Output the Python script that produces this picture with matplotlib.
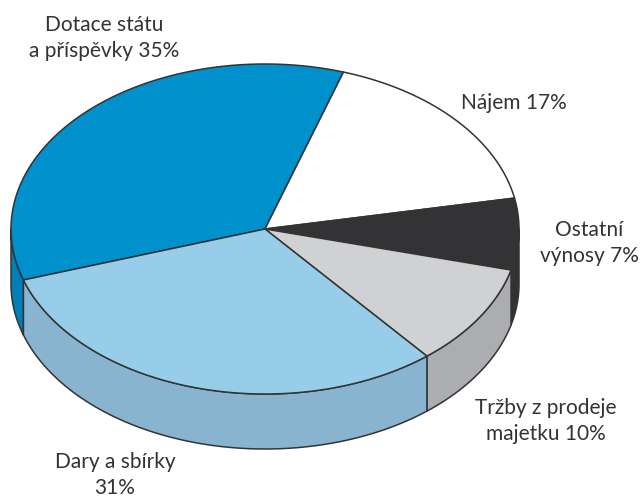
import numpy as np
import matplotlib
matplotlib.use("Agg")
import matplotlib.pyplot as plt
from matplotlib.patches import Polygon

# podíly zdrojů financování (%)
labels = ["Dotace státu\na příspěvky 35%", "Nájem 17%", "Ostatní\nvýnosy 7%",
          "Tržby z prodeje\nmajetku 10%", "Dary a sbírky\n31%"]
values = [35, 17, 7, 10, 31]
top_colors = ["#0090cc", "#ffffff", "#333335", "#d0d1d3", "#98cdea"]
side_colors = ["#0080b8", "#ffffff", "#333335", "#abadb0", "#88b4cf"]
label_pos = [(104, 38), (514, 103), (589, 243), (546, 421), (115, 475)]

plt.rcParams['font.family'] = ['Lato', 'DejaVu Sans']

fig = plt.figure(figsize=(6.41, 4.99), dpi=100)
ax = fig.add_axes([0, 0, 1, 1])
ax.set_xlim(0, 641)
ax.set_ylim(499, 0)
ax.axis('off')

cx, cy = 265, 229
rx, ry = 254, 165
depth = 55
start = 198  # parametric angle of first boundary, clockwise


def pt(t, dy=0):
    t = np.radians(t)
    return cx + rx * np.cos(t), cy - ry * np.sin(t) + dy


edges = start - 3.6 * np.cumsum([0] + values)

# boky (jen přední polovina, úhly -180..0)
for i in range(len(values)):
    a1, a2 = edges[i], edges[i + 1]  # a1 > a2
    for shift in (0, -360, 360):
        lo = max(a2 + shift, -180)
        hi = min(a1 + shift, 0)
        if hi > lo:
            ts = np.linspace(hi, lo, 80)
            upper = [pt(t) for t in ts]
            lower = [pt(t, depth) for t in ts[::-1]]
            ax.add_patch(Polygon(upper + lower, closed=True, fc=side_colors[i],
                                 ec='#333333', lw=1.1, joinstyle='round'))

# vrchní plochy
for i in range(len(values)):
    ts = np.linspace(edges[i], edges[i + 1], 120)
    verts = [(cx, cy)] + [pt(t) for t in ts]
    ax.add_patch(Polygon(verts, closed=True, fc=top_colors[i],
                         ec='#333333', lw=1.1, joinstyle='round'))

for lab, (x, y) in zip(labels, label_pos):
    ax.text(x, y, lab, ha='center', va='center', fontsize=15,
            color='#333333', linespacing=1.35)

fig.savefig("out.png", dpi=100)
